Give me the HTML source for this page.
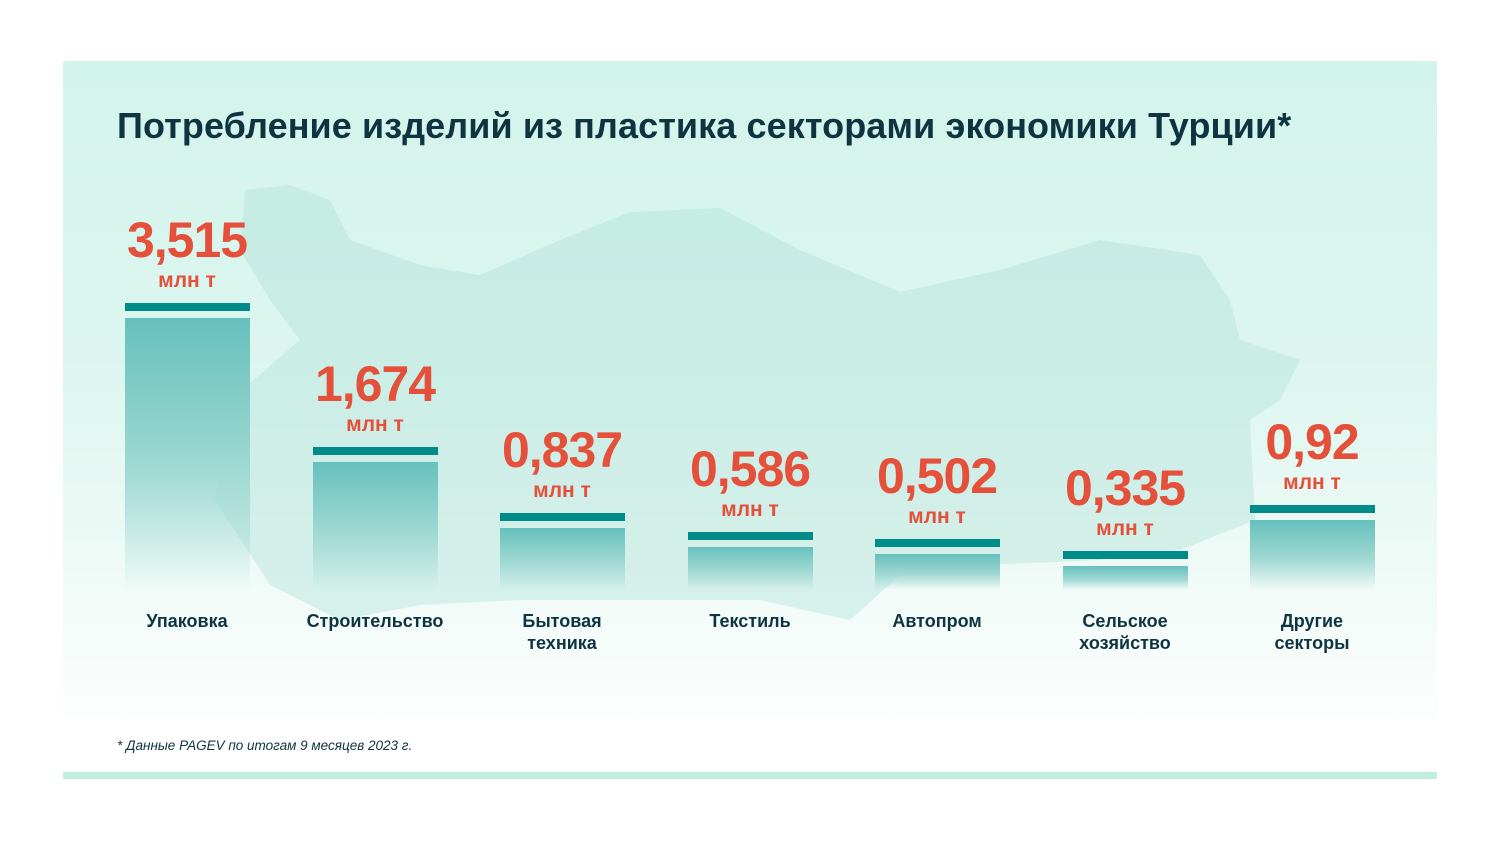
<!DOCTYPE html>
<html><head><meta charset="utf-8"><style>
body{margin:0;width:1500px;height:844px;background:#fff;position:relative;font-family:"Liberation Sans",sans-serif;overflow:hidden}
.panel{position:absolute;left:63px;top:61px;width:1374px;height:661px;background:linear-gradient(#d3f4eb 0%,#dcf6ef 45%,#eefaf6 75%,#fdfefe 100%)}
.band{position:absolute;left:63px;top:772px;width:1374px;height:7px;background:#bdeee0}
h1{position:absolute;left:117px;top:105px;margin:0;font-size:36px;letter-spacing:0.1px;font-weight:bold;color:#0d3440;white-space:nowrap}
.line{position:absolute;width:125px;height:8px;background:#008b8b}
.bar{position:absolute;width:125px;background:linear-gradient(#66c0bd,#9fd8d2 55%,rgba(220,244,238,0))}
.val{position:absolute;width:200px;text-align:center;color:#e4503a;font-weight:bold;font-size:50px;letter-spacing:-1px}
.unit{position:absolute;width:200px;text-align:center;color:#e4503a;font-weight:bold;font-size:21px}
.lab{position:absolute;width:200px;text-align:center;color:#0d3440;font-weight:bold;font-size:18px;line-height:22px;top:610px}
.note{position:absolute;left:117px;top:738px;font-size:13.5px;font-style:italic;color:#0d3440}
</style></head><body>
<div class="panel"></div>
<svg style="position:absolute;left:0;top:0" width="1500" height="844">
<path d="M245,190 L290,185 L330,200 L350,240 L420,265 L480,275 L560,240 L630,212 L720,208 L800,250 L900,292 L1000,270 L1100,240 L1200,255 L1230,300 L1240,340 L1300,360 L1280,400 L1250,420 L1255,520 L1180,550 L1100,560 L980,565 L900,575 L850,620 L760,600 L650,600 L520,600 L420,605 L340,620 L270,585 L215,500 L230,400 L300,340 L270,300 L240,250 Z" fill="#b3e2da" opacity="0.45"/>
</svg>
<h1>Потребление изделий из пластика секторами экономики Турции*</h1>
<div class="line" style="left:125px;top:303px"></div><div class="bar" style="left:125px;top:318px;height:272px"></div>
<div class="line" style="left:313px;top:447px"></div><div class="bar" style="left:313px;top:462px;height:128px"></div>
<div class="line" style="left:500px;top:513px"></div><div class="bar" style="left:500px;top:528px;height:62px"></div>
<div class="line" style="left:688px;top:532px"></div><div class="bar" style="left:688px;top:547px;height:43px"></div>
<div class="line" style="left:875px;top:539px"></div><div class="bar" style="left:875px;top:554px;height:36px"></div>
<div class="line" style="left:1063px;top:551px"></div><div class="bar" style="left:1063px;top:566px;height:24px"></div>
<div class="line" style="left:1250px;top:505px"></div><div class="bar" style="left:1250px;top:520px;height:70px"></div>

<div class="val" style="left:87px;top:211px">3,515</div><div class="unit" style="left:87px;top:269px">млн т</div>
<div class="val" style="left:275px;top:355px">1,674</div><div class="unit" style="left:275px;top:413px">млн т</div>
<div class="val" style="left:462px;top:421px">0,837</div><div class="unit" style="left:462px;top:479px">млн т</div>
<div class="val" style="left:650px;top:440px">0,586</div><div class="unit" style="left:650px;top:498px">млн т</div>
<div class="val" style="left:837px;top:447px">0,502</div><div class="unit" style="left:837px;top:505px">млн т</div>
<div class="val" style="left:1025px;top:459px">0,335</div><div class="unit" style="left:1025px;top:517px">млн т</div>
<div class="val" style="left:1212px;top:413px">0,92</div><div class="unit" style="left:1212px;top:471px">млн т</div>

<div class="lab" style="left:87px">Упаковка</div>
<div class="lab" style="left:275px">Строительство</div>
<div class="lab" style="left:462px">Бытовая<br>техника</div>
<div class="lab" style="left:650px">Текстиль</div>
<div class="lab" style="left:837px">Автопром</div>
<div class="lab" style="left:1025px">Сельское<br>хозяйство</div>
<div class="lab" style="left:1212px">Другие<br>секторы</div>
<div class="note">* Данные PAGEV по итогам 9 месяцев 2023 г.</div>
<div class="band"></div>
</body></html>
